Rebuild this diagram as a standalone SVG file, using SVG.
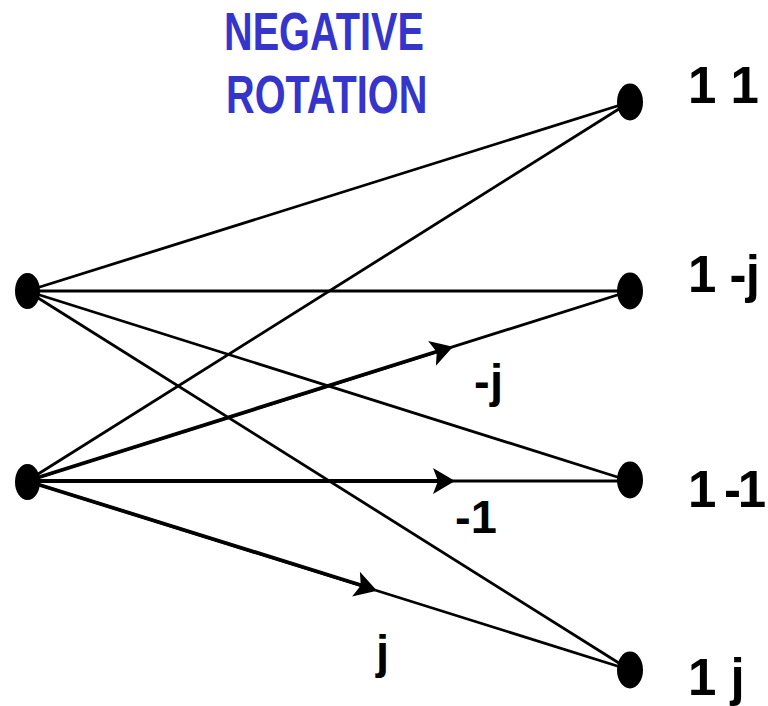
<svg xmlns="http://www.w3.org/2000/svg" width="768" height="706" viewBox="0 0 768 706">
<style>
.ln{stroke:#000;stroke-width:2.8;fill:none}
.th{stroke:#000;stroke-width:3.8;fill:none}
.nd{fill:#000}
.lb{font-family:"Liberation Sans",Arial,sans-serif;font-weight:bold;fill:#000;font-size:51px}
.el{font-family:"Liberation Sans",Arial,sans-serif;font-weight:bold;fill:#000;font-size:47px}
.tt{font-family:"Liberation Sans",Arial,sans-serif;font-weight:bold;fill:#3535CC;font-size:54px}
</style>
<defs>
<path id="ah" d="M0,0 L-22,-13 L-17,0 L-22,13 Z" fill="#000"/>
</defs>
<rect width="768" height="706" fill="#fff"/>
<g id="title">
<text class="tt" transform="translate(224,50) scale(0.735,1)">NEGATIVE</text>
<text class="tt" transform="translate(226,113) scale(0.735,1)">ROTATION</text>
</g>
<g id="connectors">
<line class="ln" x1="27" y1="291" x2="630" y2="102"/>
<line class="ln" x1="27" y1="291" x2="630" y2="291"/>
<line class="ln" x1="27" y1="291" x2="630" y2="481"/>
<line class="ln" x1="27" y1="291" x2="630" y2="670"/>
<line class="ln" x1="27" y1="481" x2="630" y2="102"/>
<line class="ln" x1="27" y1="481" x2="630" y2="291"/>
<line class="ln" x1="27" y1="481" x2="630" y2="481"/>
<line class="ln" x1="27" y1="481" x2="630" y2="670"/>
<line class="th" x1="27" y1="481" x2="445" y2="349"/>
<line class="th" x1="27" y1="481" x2="445" y2="481"/>
<line class="th" x1="27" y1="481" x2="370" y2="588"/>
<use href="#ah" transform="translate(453,346.8) rotate(-17.49)"/>
<use href="#ah" transform="translate(455,481)"/>
<use href="#ah" transform="translate(377,590.7) rotate(17.4)"/>
</g>
<g id="n-left-top"><ellipse class="nd" cx="27.5" cy="291" rx="12.5" ry="18"/></g>
<g id="n-left-bottom"><ellipse class="nd" cx="27.5" cy="482" rx="12.5" ry="18"/></g>
<g id="n-11"><ellipse class="nd" cx="630" cy="102" rx="13" ry="18.5"/><text class="lb" x="688" y="103">1 1</text></g>
<g id="n-1-j"><ellipse class="nd" cx="630" cy="291" rx="13" ry="18.5"/><text class="lb" x="688" y="292" textLength="72" lengthAdjust="spacing">1 -j</text></g>
<g id="n-1-1"><ellipse class="nd" cx="630" cy="480" rx="13" ry="18.5"/><text class="lb" x="688" y="507" textLength="78" lengthAdjust="spacing">1 -1</text></g>
<g id="n-1j"><ellipse class="nd" cx="630" cy="670" rx="13" ry="18.5"/><text class="lb" x="688" y="695">1 j</text></g>
<g id="edge-labels">
<text class="el" x="474" y="397" textLength="29" lengthAdjust="spacing">-j</text>
<text class="el" x="455" y="533">-1</text>
<text class="el" x="376" y="668">j</text>
</g>
</svg>
